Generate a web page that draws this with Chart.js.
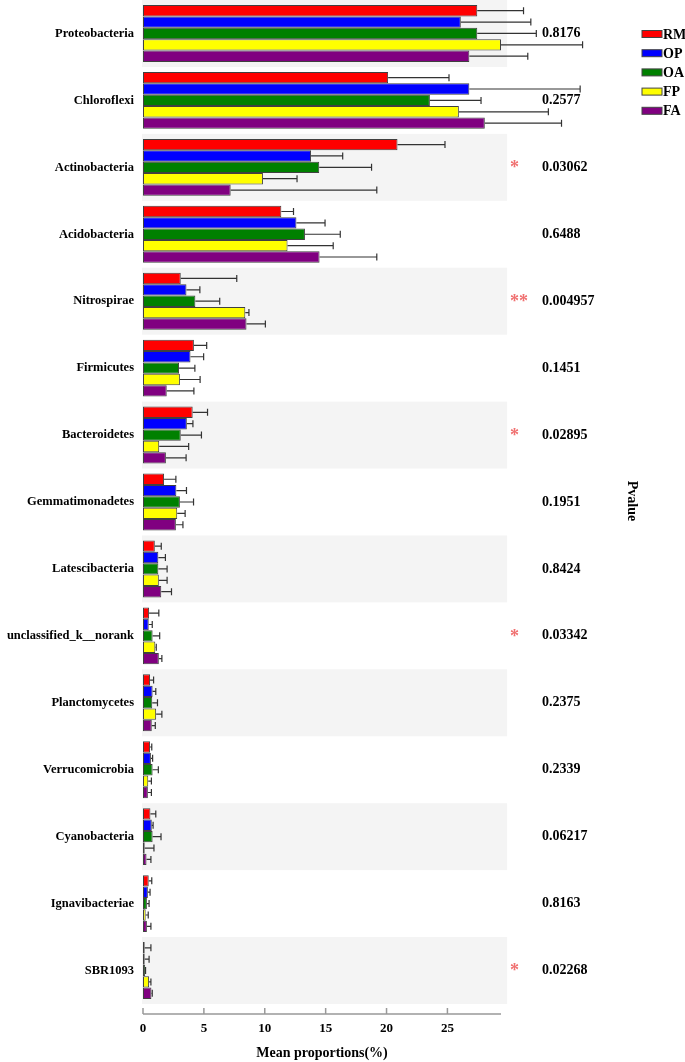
<!DOCTYPE html>
<html>
<head>
<meta charset="utf-8">
<script src="https://cdn.jsdelivr.net/npm/chart.js@4.4.1/dist/chart.umd.min.js"></script>
<style>
  body { margin: 0; background: #fff; }
  #wrap { width: 685px; height: 1062px; position: relative; }
</style>
</head>
<body>
<div id="wrap"><canvas id="myChart"></canvas></div>
<script>
const categories = ["Proteobacteria", "Chloroflexi", "Actinobacteria", "Acidobacteria", "Nitrospirae",
  "Firmicutes", "Bacteroidetes", "Gemmatimonadetes", "Latescibacteria", "unclassified_k__norank",
  "Planctomycetes", "Verrucomicrobia", "Cyanobacteria", "Ignavibacteriae", "SBR1093"];

const groups = ["RM", "OP", "OA", "FP", "FA"];
const groupColors = ["#ff0000", "#0000ff", "#008000", "#ffff00", "#800080"];

const rmMean = [27.45, 20.13, 20.9, 11.36, 3.1, 4.18, 4.08, 1.73, 0.97, 0.5, 0.58, 0.58, 0.61, 0.47, 0.14];
const rmErr  = [3.8, 5.0, 3.9, 1.0, 4.6, 1.05, 1.22, 0.97, 0.53, 0.8, 0.29, 0.14, 0.44, 0.25, 0.51];
const opMean = [26.1, 26.8, 13.8, 12.6, 3.57, 3.9, 3.6, 2.74, 1.26, 0.47, 0.79, 0.65, 0.72, 0.4, 0.14];
const opErr  = [5.75, 9.1, 2.6, 2.35, 1.1, 1.08, 0.5, 0.83, 0.58, 0.29, 0.26, 0.14, 0.11, 0.18, 0.36];
const oaMean = [27.45, 23.56, 14.47, 13.3, 4.3, 2.96, 3.1, 3.03, 1.26, 0.79, 0.76, 0.79, 0.79, 0.32, 0.18];
const oaErr  = [4.85, 4.2, 4.3, 2.9, 2.0, 1.3, 1.7, 1.12, 0.72, 0.58, 0.43, 0.47, 0.69, 0.18, 0.03];
const fpMean = [29.4, 25.94, 9.85, 11.87, 8.4, 3.03, 1.33, 2.81, 1.3, 1.01, 1.08, 0.43, 0.14, 0.22, 0.5];
const fpErr  = [6.7, 7.35, 2.8, 3.75, 0.3, 1.66, 2.42, 0.65, 0.68, 0.08, 0.47, 0.26, 0.76, 0.21, 0.15];
const faMean = [26.8, 28.07, 7.2, 14.5, 8.5, 1.95, 1.88, 2.7, 1.5, 1.3, 0.72, 0.4, 0.29, 0.32, 0.69];
const faErr  = [4.8, 6.3, 12.0, 4.7, 1.55, 2.23, 1.66, 0.58, 0.84, 0.25, 0.29, 0.29, 0.36, 0.33, 0.07];

const pValues = ["0.8176", "0.2577", "0.03062", "0.6488", "0.004957", "0.1451", "0.02895", "0.1951",
  "0.8424", "0.03342", "0.2375", "0.2339", "0.06217", "0.8163", "0.02268"];
const stars = ["", "", "*", "", "**", "", "*", "", "", "*", "", "", "", "", "*"];

const xTicks = [0, 5, 10, 15, 20, 25];

const means = [rmMean, opMean, oaMean, fpMean, faMean];
const errors = [rmErr, opErr, oaErr, fpErr, faErr];

const serif = "'Liberation Serif', 'Times New Roman', serif";
const X_MAX = 29.4;
const BAND_END = 29.9;

// gray stripes behind every other phylum
const bands = {
  id: "bands",
  beforeDatasetsDraw(chart) {
    const { ctx, chartArea, scales } = chart;
    const slot = (chartArea.bottom - chartArea.top) / categories.length;
    const right = scales.x.getPixelForValue(BAND_END);
    ctx.save();
    ctx.fillStyle = "#f4f4f4";
    categories.forEach((c, i) => {
      if (i % 2 !== 0) return;
      const cy = scales.y.getPixelForValue(i);
      ctx.fillRect(chartArea.left - 1, cy - slot / 2, right - chartArea.left + 1, slot);
    });
    ctx.restore();
  }
};

// error bars, one-sided to the right
const errorBars = {
  id: "errorBars",
  afterDatasetsDraw(chart) {
    const { ctx, scales } = chart;
    ctx.save();
    ctx.strokeStyle = "#333";
    ctx.lineWidth = 1.2;
    chart.data.datasets.forEach((ds, d) => {
      const meta = chart.getDatasetMeta(d);
      meta.data.forEach((bar, i) => {
        const x0 = scales.x.getPixelForValue(means[d][i]);
        const x1 = scales.x.getPixelForValue(means[d][i] + errors[d][i]);
        const y = bar.y;
        const cap = 3.5;
        ctx.beginPath();
        ctx.moveTo(x0, y);
        ctx.lineTo(x1, y);
        ctx.moveTo(x1, y - cap);
        ctx.lineTo(x1, y + cap);
        ctx.stroke();
      });
    });
    ctx.restore();
  }
};

// axis line, p-values, stars, legend, side title
const extras = {
  id: "extras",
  afterDraw(chart) {
    const { ctx, chartArea, scales } = chart;
    ctx.save();

    const axisY = chartArea.bottom + 10;
    ctx.strokeStyle = "#999";
    ctx.lineWidth = 1.5;
    ctx.beginPath();
    ctx.moveTo(chartArea.left, axisY);
    ctx.lineTo(chartArea.right, axisY);
    xTicks.forEach(t => {
      const x = scales.x.getPixelForValue(t);
      ctx.moveTo(x, axisY - 6);
      ctx.lineTo(x, axisY);
    });
    ctx.stroke();

    ctx.textBaseline = "middle";
    categories.forEach((c, i) => {
      const cy = scales.y.getPixelForValue(i);
      ctx.fillStyle = "#000";
      ctx.font = "bold 14px " + serif;
      ctx.textAlign = "left";
      ctx.fillText(pValues[i], 542, cy);
      if (stars[i]) {
        ctx.fillStyle = "#f07070";
        ctx.font = "bold 18px " + serif;
        ctx.fillText(stars[i], 510, cy + 1);
      }
    });

    groups.forEach((g, i) => {
      const y = 34 + i * 19.2;
      ctx.fillStyle = groupColors[i];
      ctx.fillRect(642, y - 3.5, 20, 7);
      ctx.strokeStyle = "#444";
      ctx.lineWidth = 1;
      ctx.strokeRect(642, y - 3.5, 20, 7);
      ctx.fillStyle = "#000";
      ctx.font = "bold 14px " + serif;
      ctx.textAlign = "left";
      ctx.fillText(g, 663, y + 1);
    });

    ctx.translate(632, 501);
    ctx.rotate(Math.PI / 2);
    ctx.textAlign = "center";
    ctx.fillStyle = "#000";
    ctx.font = "bold 14px " + serif;
    ctx.fillText("Pvalue", 0, 0);

    ctx.restore();
  }
};

const ctx = document.getElementById("myChart").getContext("2d");

const chart = new Chart(ctx, {
  type: "bar",
  data: {
    labels: categories,
    datasets: groups.map((g, i) => ({
      label: g,
      data: means[i],
      backgroundColor: groupColors[i],
      borderColor: "#404040",
      borderWidth: 1,
      borderSkipped: false,
      categoryPercentage: 0.85,
      barPercentage: 1.0
    }))
  },
  options: {
    indexAxis: "y",
    responsive: true,
    maintainAspectRatio: false,
    animation: false,
    layout: { padding: { left: 0, right: 184, top: 0, bottom: 0 } },
    plugins: {
      legend: { display: false },
      tooltip: { enabled: false }
    },
    scales: {
      x: {
        type: "linear",
        min: 0,
        max: X_MAX,
        afterFit: scale => { scale.height = 58; },
        grid: { display: false },
        border: { display: false },
        ticks: {
          stepSize: 5,
          includeBounds: false,
          padding: 9,
          color: "#000",
          font: { family: serif, size: 13, weight: "bold" }
        },
        title: {
          display: true,
          text: "Mean proportions(%)",
          color: "#000",
          padding: { top: 0, bottom: 0 },
          font: { family: serif, size: 14, weight: "bold" }
        }
      },
      y: {
        afterFit: scale => {
          scale.width = 143;
          scale.paddingTop = 0;
          scale.paddingBottom = 0;
        },
        grid: { display: false, drawTicks: false },
        border: { display: false },
        ticks: {
          padding: 9,
          color: "#000",
          font: { family: serif, size: 12.5, weight: "bold" }
        }
      }
    }
  },
  plugins: [bands, errorBars, extras]
});
</script>
</body>
</html>
